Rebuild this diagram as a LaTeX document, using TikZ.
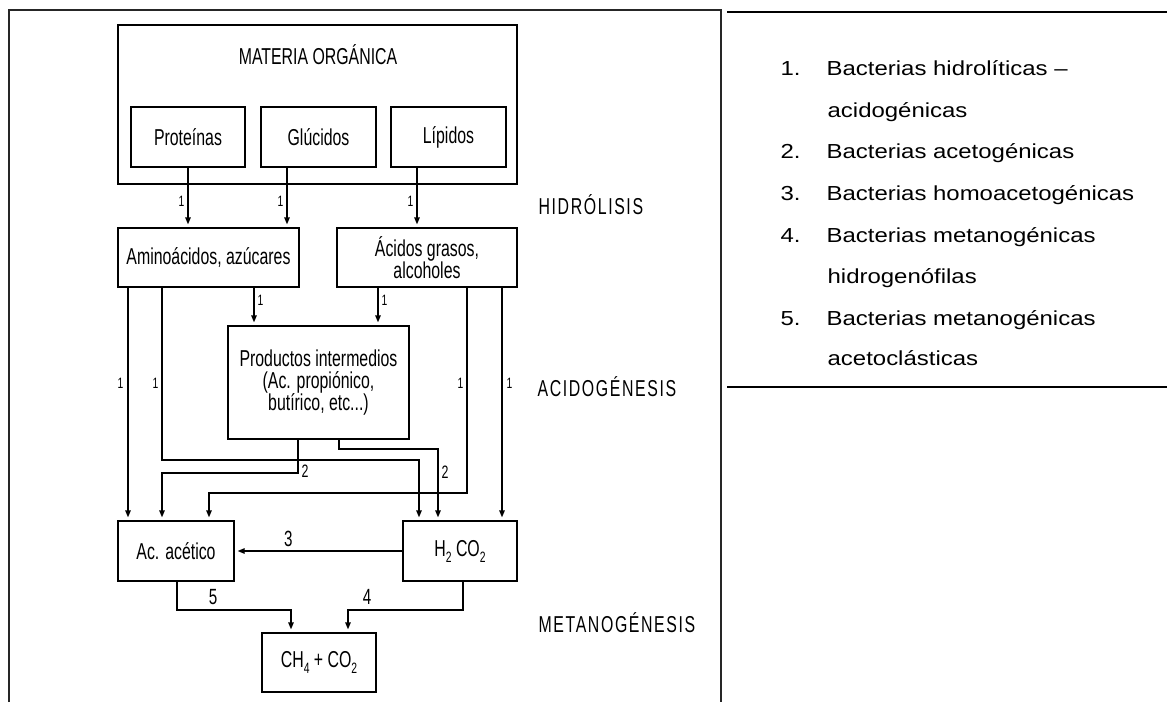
\documentclass[tikz,border=0pt]{standalone}
\usepackage{fontspec}
\usetikzlibrary{arrows.meta}
\newfontfamily\diagfont[FakeStretch=0.69]{Liberation Sans}
\newfontfamily\stagefont[FakeStretch=0.69,LetterSpace=7]{Liberation Sans}
\newfontfamily\listfont[FakeStretch=1.18]{Liberation Sans}
\newcommand\lowsub[1]{\raisebox{-0.5ex}{\fontsize{15}{15}\selectfont #1}}

\begin{document}
\begin{tikzpicture}[x=1pt,y=-1pt,
  line width=1.3pt,
  box/.style={draw, line width=1.3pt, inner sep=0pt, align=center,
    font=\diagfont\fontsize{23}{21}\selectfont},
  title/.style={inner sep=0pt, font=\diagfont\fontsize{23}{23}\selectfont},
  stage/.style={anchor=west, inner sep=0pt, font=\stagefont\fontsize{23}{23}\selectfont},
  item/.style={anchor=base west, inner sep=0pt, font=\listfont\fontsize{20.3}{20.3}\selectfont},
  lab/.style={inner sep=0pt, font=\diagfont\fontsize{15}{15}\selectfont},
  midlab/.style={inner sep=0pt, font=\diagfont\fontsize{18}{18}\selectfont},
  biglab/.style={inner sep=0pt, font=\diagfont\fontsize{22}{22}\selectfont},
  flow/.style={-{Triangle[length=7pt,width=5.5pt]}, line width=1.3pt, shorten >=3pt},
]
\useasboundingbox (0,0) rectangle (1167,702);

% frame of the diagram and rules of the legend
\draw[line width=1.3pt, draw=black!85] (9,702) -- (9,10) -- (721,10) -- (721,702);
\draw[line width=2pt] (727,12) -- (1167,12);
\draw[line width=2pt] (727,387) -- (1167,387);

% column and row helpers
\foreach \c in {128,162,177,188,209,254,287,291,298,339,348,378,417,419,438,463,467,502}
  \coordinate (c\c) at (\c,0);
\foreach \r in {449,460,473,493,610}
  \coordinate (r\r) at (0,\r);

% boxes
\node[box, minimum width=399pt, minimum height=159pt] (mat) at (317.5,104.5) {};
\node[title] (mattitle) at (318,55) {MATERIA ORGÁNICA};
\node[box, minimum width=114pt, minimum height=60pt] (prot) at (188,137) {Proteínas};
\node[box, minimum width=115pt, minimum height=60pt] (gluc) at (318.5,137) {Glúcidos};
\node[box, minimum width=115pt, minimum height=60pt] (lip) at (448.5,137) {Lípidos};

\node[box, minimum width=181pt, minimum height=59pt] (amino) at (208.5,257.5) {Aminoácidos, azúcares};
\node[box, minimum width=180pt, minimum height=59pt] (acgr) at (427,257.5) {Ácidos grasos,\\alcoholes};
\node[box, minimum width=181pt, minimum height=113pt, font=\diagfont\fontsize{23}{22}\selectfont] (prod) at (318.5,382.5)
  {Productos intermedios\\(Ac. propiónico,\\butírico, etc...)};
\node[box, minimum width=116pt, minimum height=60pt] (acet) at (176,551) {Ac. acético};
\node[box, minimum width=114pt, minimum height=60pt] (h2) at (460,551) {H\lowsub{2} CO\lowsub{2}};
\node[box, minimum width=114pt, minimum height=59pt] (ch4) at (319,662.5) {CH\lowsub{4} + CO\lowsub{2}};

% stage names
\node[stage] (hidro) at (538,205) {HIDRÓLISIS};
\node[stage] (acido) at (537,387) {ACIDOGÉNESIS};
\node[stage] (metano) at (538,623) {METANOGÉNESIS};

% hydrolysis
\draw[flow] (prot.south) -- node[lab, pos=0.56, left=3pt] {1} (amino.north -| prot.south);
\draw[flow] (gluc.south -| c287) -- node[lab, pos=0.56, left=3pt] {1} (amino.north -| c287);
\draw[flow] (lip.south -| c417) -- node[lab, pos=0.56, left=3pt] {1} (acgr.north -| c417);

% acidogenesis
\draw[flow] (amino.south -| c254) -- node[lab, pos=0.33, right=3pt] {1} (prod.north -| c254);
\draw[flow] (acgr.south -| c378) -- node[lab, pos=0.33, right=3pt] {1} (prod.north -| c378);
\draw[flow] (amino.south -| c128) -- node[lab, pos=0.41, left=4pt] {1} (acet.north -| c128);
\draw[flow] (amino.south -| c162) -- node[lab, pos=0.555, left=3pt] {1} (c162 |- r460) -| (h2.north -| c419);
\draw[flow] (prod.south -| c298) -- node[midlab, pos=0.95, right=3pt] {2} (c298 |- r473) -| (acet.north -| c162);
\draw[flow] (prod.south -| c339) -- (c339 |- r449) -| node[midlab, pos=0.66, right=3pt] {2} (h2.north -| c438);
\draw[flow] (acgr.south -| c467) -- node[lab, pos=0.466, left=3pt] {1} (c467 |- r493) -| (acet.north -| c209);
\draw[flow] (acgr.south -| c502) -- node[lab, pos=0.41, right=4pt] {1} (h2.north -| c502);

% homoacetogenesis and methanogenesis
\draw[flow] (h2.west) -- node[biglab, pos=0.68, above=4pt] {3} (acet.east);
\draw[flow] (acet.south -| c177) -- (c177 |- r610) -| node[biglab, pos=0.158, above=5pt] {5} (ch4.north -| c291);
\draw[flow] (h2.south -| c463) -- (c463 |- r610) -| node[biglab, pos=0.417, above=5pt] {4} (ch4.north -| c348);

% legend
\node[item] (n1) at (780,75) {1.};
\node[item] (t1) at (826,75) {Bacterias hidrolíticas –};
\node[item] (t1b) at (827,117) {acidogénicas};
\node[item] (n2) at (780,158) {2.};
\node[item] (t2) at (826,158) {Bacterias acetogénicas};
\node[item] (n3) at (780,200) {3.};
\node[item] (t3) at (826,200) {Bacterias homoacetogénicas};
\node[item] (n4) at (780,242) {4.};
\node[item] (t4) at (826,242) {Bacterias metanogénicas};
\node[item] (t4b) at (827,283) {hidrogenófilas};
\node[item] (n5) at (780,325) {5.};
\node[item] (t5) at (826,325) {Bacterias metanogénicas};
\node[item] (t5b) at (827,365) {acetoclásticas};
\end{tikzpicture}
\end{document}
